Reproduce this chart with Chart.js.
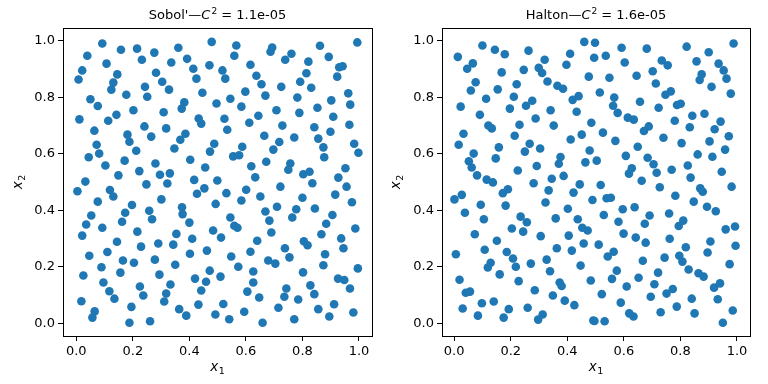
<!DOCTYPE html>
<html><head><meta charset="utf-8">
<script src="https://cdn.jsdelivr.net/npm/chart.js@4/dist/chart.umd.min.js"></script>
<style>
html,body{margin:0;padding:0;background:#fff;}
#wrap{position:relative;width:768px;height:384px;overflow:hidden;}
.box{position:absolute;top:0;width:384px;height:384px;}
canvas{display:block;}
</style></head><body>
<div id="wrap">
<div class="box" style="left:0"><canvas id="c1" width="384" height="384" style="width:384px;height:384px"></canvas></div>
<div class="box" style="left:384px"><canvas id="c2" width="384" height="384" style="width:384px;height:384px"></canvas></div>
</div>
<script>
// ---- data (x1, x2) ----
const sobolXY = [
[.092,.990],[.479,.996],[.039,.947],[.158,.968],[.215,.972],[.276,.958],[.361,.975],[.232,.933],[.107,.919],[.336,.923],[.392,.936],[.471,.913],[.021,.895],[.414,.901],[.008,.863],[.145,.881],[.282,.887],[.425,.866],[.131,.852],[.304,.855],[.124,.827],[.243,.837],[.328,.827],[.446,.816],[.177,.809],[.251,.802],[.050,.793],[.076,.769],[.382,.782],[.373,.760],[.496,.778],[.202,.754],[.309,.747],[.011,.722],[.113,.717],[.142,.738],[.433,.725],[.442,.707],[.241,.697],[.318,.690],[.064,.682],[.181,.668],[.265,.661],[.386,.671],[.368,.650],[.188,.643],[.072,.632],[.488,.636],[.081,.601],[.212,.611],[.347,.619],[.473,.608],[.044,.588],[.171,.576],[.403,.579],[.103,.559],[.280,.566],[.456,.552],[.149,.524],[.223,.539],[.296,.526],[.331,.531],[.032,.502],[.248,.492],[.322,.495],[.417,.508],[.499,.506],
[.004,.468],[.119,.472],[.131,.449],[.301,.439],[.076,.431],[.197,.419],[.374,.411],[.376,.387],[.427,.459],[.453,.478],[.493,.423],[.173,.392],[.258,.399],[.268,.369],[.053,.382],[.035,.350],[.162,.360],[.092,.339],[.400,.357],[.021,.311],[.216,.325],[.354,.317],[.484,.329],[.410,.300],[.144,.289],[.229,.272],[.290,.283],[.343,.279],[.110,.253],[.402,.247],[.462,.258],[.046,.240],[.165,.223],[.204,.215],[.278,.226],[.350,.208],[.089,.199],[.156,.180],[.294,.173],[.025,.170],[.472,.187],[.420,.159],[.459,.148],[.096,.145],[.225,.131],[.333,.138],[.442,.117],[.117,.114],[.237,.099],[.318,.106],[.135,.088],[.311,.078],[.018,.079],[.432,.067],[.195,.059],[.065,.043],[.364,.051],[.057,.021],[.389,.028],[.492,.032],[.188,.003],[.261,.008],
[.566,.983],[.693,.976],[.687,.961],[.761,.954],[.739,.933],[.862,.982],[.994,.994],[.559,.947],[.893,.943],[.821,.926],[.616,.915],[.517,.895],[.527,.866],[.637,.876],[.930,.906],[.942,.910],[.923,.873],[.814,.885],[.792,.855],[.655,.846],[.725,.837],[.831,.834],[.598,.820],[.669,.806],[.962,.814],[.969,.774],[.545,.795],[.782,.799],[.902,.789],[.584,.767],[.708,.754],[.853,.763],[.789,.745],[.909,.731],[.524,.724],[.644,.735],[.612,.710],[.729,.700],[.966,.703],[.534,.685],[.842,.694],[.899,.678],[.665,.664],[.771,.658],[.856,.654],[.718,.642],[.587,.625],[.983,.636],[.874,.623],[.998,.604],[.697,.615],[.555,.591],[.576,.595],[.877,.588],[.672,.572],[.757,.566],[.750,.544],[.619,.556],[.952,.549],[.633,.517],[.803,.528],[.825,.537],[.927,.516],[.835,.496],
[.531,.461],[.601,.473],[.584,.435],[.651,.449],[.722,.484],[.956,.484],[.800,.445],[.916,.456],[.975,.429],[.710,.413],[.669,.396],[.778,.404],[.764,.375],[.844,.407],[.906,.384],[.545,.375],[.683,.364],[.559,.346],[.570,.339],[.884,.353],[.512,.304],[.690,.322],[.867,.316],[.987,.336],[.937,.301],[.945,.266],[.640,.293],[.805,.291],[.818,.277],[.616,.254],[.738,.266],[.754,.234],[.880,.245],[.548,.237],[.679,.223],[.704,.212],[.874,.206],[.573,.201],[.996,.195],[.626,.184],[.510,.166],[.802,.181],[.926,.159],[.948,.154],[.626,.145],[.828,.135],[.968,.124],[.743,.124],[.605,.113],[.842,.104],[.736,.095],[.647,.092],[.785,.085],[.520,.069],[.912,.068],[.715,.056],[.856,.051],[.594,.042],[.980,.039],[.895,.025],[.541,.015],[.771,.015],[.659,.003]
];
const haltonXY = [
[.100,.983],[.144,.968],[.179,.952],[.263,.965],[.460,.996],[.498,.993],[.013,.943],[.066,.920],[.046,.901],[.168,.888],[.246,.897],[.320,.933],[.397,.915],[.410,.954],[.495,.940],[.299,.904],[.311,.886],[.476,.873],[.076,.853],[.059,.824],[.154,.828],[.221,.846],[.330,.856],[.365,.841],[.385,.830],[.113,.795],[.211,.802],[.419,.791],[.440,.804],[.276,.788],[.254,.770],[.023,.767],[.197,.760],[.341,.754],[.433,.749],[.091,.738],[.288,.725],[.121,.700],[.133,.690],[.231,.703],[.352,.700],[.485,.710],[.033,.671],[.214,.664],[.412,.651],[.451,.668],[.016,.632],[.158,.623],[.267,.636],[.304,.619],[.250,.608],[.479,.612],[.069,.601],[.147,.584],[.376,.589],[.370,.565],[.052,.574],[.062,.552],[.292,.557],[.464,.570],[.225,.541],[.081,.524],[.115,.509],[.137,.499],[.387,.522],[.345,.512],[.281,.496],[.444,.492],
[.190,.475],[.172,.461],[.334,.471],[.422,.463],[.489,.437],[.001,.439],[.027,.455],[.094,.420],[.182,.417],[.323,.428],[.402,.406],[.038,.392],[.105,.369],[.235,.378],[.257,.358],[.359,.372],[.437,.369],[.453,.339],[.472,.329],[.204,.336],[.244,.325],[.073,.316],[.306,.309],[.405,.311],[.151,.293],[.458,.283],[.108,.261],[.186,.253],[.363,.266],[.416,.258],[.006,.245],[.208,.230],[.218,.201],[.271,.212],[.327,.226],[.129,.215],[.119,.198],[.447,.205],[.161,.174],[.339,.185],[.019,.155],[.228,.150],[.373,.145],[.380,.133],[.483,.152],[.041,.109],[.056,.113],[.285,.118],[.349,.099],[.098,.072],[.140,.078],[.391,.081],[.425,.065],[.030,.053],[.193,.051],[.260,.056],[.084,.028],[.175,.021],[.297,.014],[.313,.032],[.492,.011],
[.536,.947],[.592,.975],[.681,.972],[.822,.979],[.900,.959],[.988,.990],[.603,.923],[.734,.930],[.755,.913],[.857,.927],[.935,.919],[.953,.895],[.963,.866],[.702,.892],[.645,.876],[.875,.881],[.868,.861],[.549,.869],[.713,.849],[.910,.837],[.515,.817],[.747,.809],[.766,.821],[.978,.813],[.566,.799],[.562,.770],[.578,.745],[.657,.784],[.723,.763],[.788,.773],[.801,.777],[.614,.728],[.635,.721],[.842,.735],[.885,.742],[.780,.717],[.833,.694],[.942,.714],[.921,.687],[.971,.662],[.526,.675],[.671,.681],[.688,.697],[.740,.657],[.570,.646],[.804,.638],[.903,.644],[.649,.625],[.958,.615],[.861,.598],[.913,.590],[.607,.593],[.684,.586],[.504,.576],[.705,.563],[.826,.559],[.628,.549],[.618,.530],[.716,.533],[.769,.544],[.946,.537],[.836,.516],[.663,.505],[.518,.490],
[.727,.482],[.870,.478],[.879,.466],[.981,.484],[.539,.443],[.554,.445],[.596,.404],[.638,.411],[.782,.452],[.847,.431],[.894,.413],[.925,.397],[.529,.384],[.581,.360],[.691,.382],[.674,.353],[.760,.389],[.794,.345],[.810,.364],[.960,.333],[.993,.343],[.599,.318],[.642,.304],[.677,.286],[.762,.300],[.511,.279],[.819,.270],[.906,.290],[.896,.251],[.995,.275],[.543,.237],[.564,.254],[.667,.222],[.744,.233],[.796,.240],[.807,.219],[.974,.210],[.575,.187],[.558,.158],[.652,.162],[.721,.180],[.829,.191],[.864,.178],[.882,.166],[.708,.139],[.610,.131],[.751,.106],[.773,.122],[.919,.127],[.940,.142],[.522,.104],[.695,.095],[.840,.088],[.932,.086],[.589,.074],[.787,.060],[.619,.036],[.634,.025],[.730,.040],[.850,.036],[.985,.046],[.496,.009],[.532,.008],[.950,.003]
];
const tickValues = [0, 0.2, 0.4, 0.6, 0.8, 1.0];
const tickLabels = ['0.0', '0.2', '0.4', '0.6', '0.8', '1.0'];
const sobolTitle = ["Sobol'\u2014", 'C', '2', ' = 1.1e-05'];
const haltonTitle = ['Halton\u2014', 'C', '2', ' = 1.6e-05'];
const xLabel = ['x', '1'];
const yLabel = ['x', '2'];

const FONT = 'DejaVu Sans';

const framePlugin = {
  id: 'frame',
  afterDraw(chart) {
    const a = chart.chartArea, ctx = chart.ctx;
    ctx.save();
    ctx.strokeStyle = '#000';
    ctx.lineWidth = 1;
    ctx.strokeRect(Math.round(a.left) + 0.5, Math.round(a.top) + 0.5,
                   Math.round(a.right - a.left), Math.round(a.bottom - a.top));
    ctx.restore();
  }
};

function drawSub(ctx, parts, cx, base) {
  // italic main letter + small subscript, centred on cx
  const fI = `italic 13.5px "${FONT}"`, fS = `9.5px "${FONT}"`;
  ctx.font = fI; const w1 = ctx.measureText(parts[0]).width;
  ctx.font = fS; const w2 = ctx.measureText(parts[1]).width;
  let x = cx - (w1 + w2 + 0.5) / 2;
  ctx.textAlign = 'left'; ctx.textBaseline = 'alphabetic';
  ctx.font = fI; ctx.fillText(parts[0], x, base);
  ctx.font = fS; ctx.fillText(parts[1], x + w1 + 0.5, base + 3.2);
}

const labelPlugin = {
  id: 'mlabels',
  afterDraw(chart) {
    const o = chart.options.plugins.mlabels;
    const ctx = chart.ctx, a = chart.chartArea;
    ctx.save();
    ctx.fillStyle = '#000';
    // title
    const parts = o.title;
    const fN = `13px "${FONT}"`, fI = `italic 13px "${FONT}"`, fS = `9px "${FONT}"`;
    const fonts = [fN, fI, fS, fN];
    ctx.textBaseline = 'alphabetic'; ctx.textAlign = 'left';
    let w = 0;
    const ws = parts.map((p, i) => { ctx.font = fonts[i]; const m = ctx.measureText(p).width; w += m; return m; });
    w += 1;
    let x = (a.left + a.right) / 2 - w / 2;
    const base = 18.5;
    parts.forEach((p, i) => {
      ctx.font = fonts[i];
      ctx.fillText(p, x, i === 2 ? base - 5 : base);
      x += ws[i] + (i === 1 ? 1 : 0);
    });
    // x label
    drawSub(ctx, o.xLabel, (a.left + a.right) / 2, 370.5);
    // y label (rotated)
    ctx.save();
    ctx.translate(o.yBase, (a.top + a.bottom) / 2);
    ctx.rotate(-Math.PI / 2);
    drawSub(ctx, o.yLabel, 0, 0);
    ctx.restore();
    ctx.restore();
  }
};

function makeChart(id, pairs, parts, g) {
  const pts = pairs.map(p => ({ x: p[0], y: p[1] }));
  const tickFont = { family: FONT, size: 13 };
  return new Chart(document.getElementById(id), {
    type: 'scatter',
    data: { datasets: [{ data: pts, backgroundColor: '#1f77b4', borderColor: '#1f77b4', borderWidth: 0, pointRadius: 4.3, pointHoverRadius: 4.3 }] },
    options: {
      responsive: false, animation: false, devicePixelRatio: 1,
      events: [],
      layout: { padding: { left: 0, right: g.padRight, top: g.padTop, bottom: 0 } },
      plugins: { legend: { display: false }, tooltip: { enabled: false }, title: { display: false },
                 mlabels: { title: parts, xLabel, yLabel, yBase: g.yBase } },
      scales: {
        x: {
          type: 'linear', min: g.xMin, max: g.xMax,
          afterFit(s) { s.height = g.xAxisH; },
          afterBuildTicks(s) { s.ticks = tickValues.map(v => ({ value: v })); },
          ticks: { callback: (v, i) => tickLabels[i], font: tickFont, color: '#000', padding: 3, maxRotation: 0, autoSkip: false },
          grid: { display: true, drawOnChartArea: false, drawTicks: true, tickLength: 5, tickColor: '#000', tickWidth: 1 },
          border: { display: true, color: '#000', width: 1 },
          title: { display: false }
        },
        y: {
          type: 'linear', min: g.yMin, max: g.yMax,
          afterFit(s) { s.width = g.yAxisW; },
          afterBuildTicks(s) { s.ticks = tickValues.map(v => ({ value: v })); },
          ticks: { callback: (v, i) => tickLabels[i], font: tickFont, color: '#000', padding: 3, autoSkip: false },
          grid: { display: true, drawOnChartArea: false, drawTicks: true, tickLength: 5, tickColor: '#000', tickWidth: 1 },
          border: { display: true, color: '#000', width: 1 },
          title: { display: false }
        }
      }
    },
    plugins: [framePlugin, labelPlugin]
  });
}

makeChart('c1', sobolXY, sobolTitle, {
  padRight: 12, padTop: 28, xAxisH: 48, yAxisW: 63,
  xMin: -0.047, xMax: 1.046, yMin: -0.044, yMax: 1.045, yBase: 21.5
});
makeChart('c2', haltonXY, haltonTitle, {
  padRight: 18, padTop: 28, xAxisH: 48, yAxisW: 58,
  xMin: -0.043, xMax: 1.046, yMin: -0.044, yMax: 1.045, yBase: 16
});
</script>
</body></html>
